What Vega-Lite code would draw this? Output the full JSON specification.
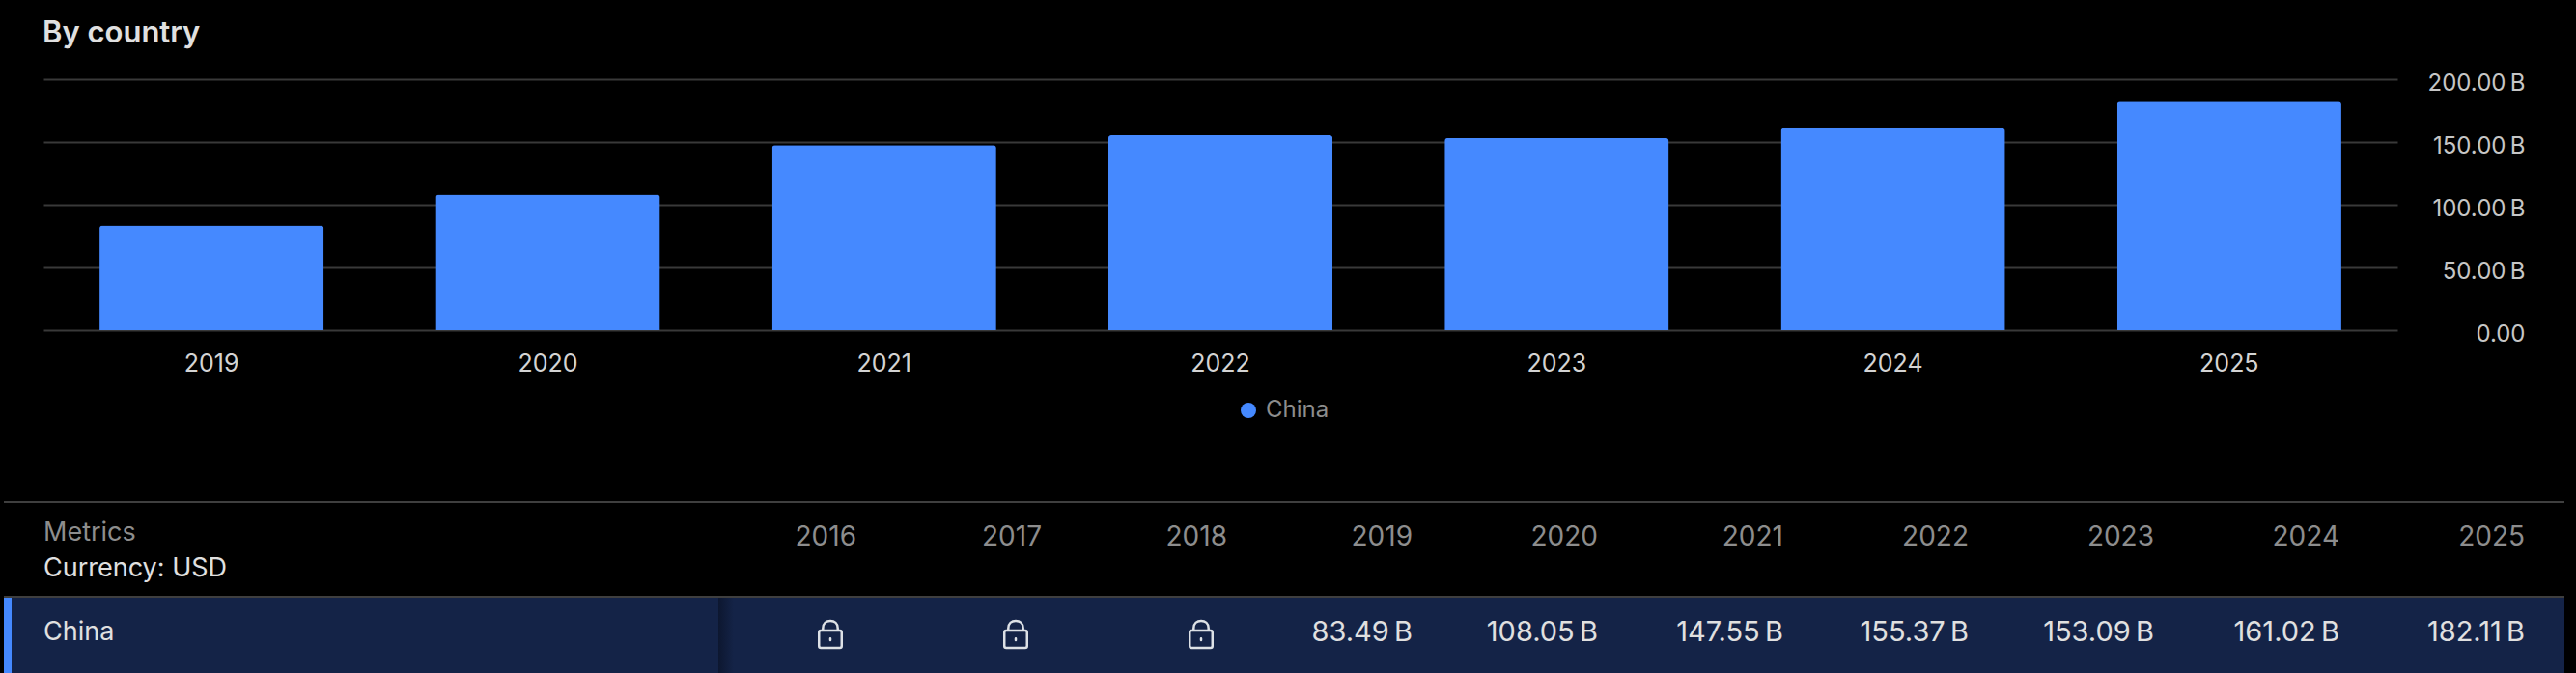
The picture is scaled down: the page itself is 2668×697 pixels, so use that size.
{
"$schema":"https://vega.github.io/schema/vega-lite/v6.json",
"width":2668,"height":697,
"autosize":{"type":"fit","contains":"padding"},
"padding":0,
"background":"#000000",
"config":{"view":{"stroke":null},"font":"Inter","axis":{"labelFont":"Inter"},"legend":{"labelFont":"Inter"},"title":{"font":"Inter"}},
"title":{"text":"By country","anchor":"start","frame":"group","dx":44,"offset":-51,"fontSize":31,"fontWeight":600,"color":"#e0e0e0"},
"datasets":{
"table":[
{"year":"2016","country":"China","locked":true},
{"year":"2017","country":"China","locked":true},
{"year":"2018","country":"China","locked":true},
{"year":"2019","country":"China","value":83.49,"label":"83.49\u2009B"},
{"year":"2020","country":"China","value":108.05,"label":"108.05\u2009B"},
{"year":"2021","country":"China","value":147.55,"label":"147.55\u2009B"},
{"year":"2022","country":"China","value":155.37,"label":"155.37\u2009B"},
{"year":"2023","country":"China","value":153.09,"label":"153.09\u2009B"},
{"year":"2024","country":"China","value":161.02,"label":"161.02\u2009B"},
{"year":"2025","country":"China","value":182.11,"label":"182.11\u2009B"}
]},
"data":{"name":"table"},
"resolve":{"scale":{"x":"independent","y":"independent","color":"independent"},"axis":{"x":"independent","y":"independent"}},
"layer":[
{"data":{"values":[{"row":"China"}]},
 "mark":{"type":"rect","color":"#142347"},
 "encoding":{
  "x":{"datum":0,"type":"quantitative","axis":null,"scale":{"domain":[0,1],"range":[12,2656]}},
  "x2":{"datum":1},
  "y":{"datum":0,"type":"quantitative","axis":null,"scale":{"domain":[0,1],"range":[618,697]}},
  "y2":{"datum":1}}},
{"data":{"values":[{"row":"China"}]},
 "mark":{"type":"rect","color":"#4589ff"},
 "encoding":{
  "x":{"datum":0,"type":"quantitative","axis":null,"scale":{"domain":[0,1],"range":[4,12]}},
  "x2":{"datum":1},
  "y":{"datum":0,"type":"quantitative","axis":null,"scale":{"domain":[0,1],"range":[618,697]}},
  "y2":{"datum":1}}},
{"data":{"values":[{"row":"China"}]},
 "mark":{"type":"rect","color":{"gradient":"linear","x1":0,"y1":0,"x2":1,"y2":0,"stops":[{"offset":0,"color":"#0d1730"},{"offset":1,"color":"#142347"}]}},
 "encoding":{
  "x":{"datum":0,"type":"quantitative","axis":null,"scale":{"domain":[0,1],"range":[744,760]}},
  "x2":{"datum":1},
  "y":{"datum":0,"type":"quantitative","axis":null,"scale":{"domain":[0,1],"range":[619,697]}},
  "y2":{"datum":1}}},
{"data":{"values":[{"line":"top"},{"line":"header"}]},
 "mark":{"type":"rule","color":"#3f3f3f","strokeWidth":2},
 "encoding":{
  "x":{"datum":0,"type":"quantitative","axis":null,"scale":{"domain":[0,1],"range":[4,2656]}},
  "x2":{"datum":1},
  "y":{"field":"line","type":"ordinal","axis":null,"sort":null,"scale":{"type":"point","domain":["top","header"],"range":[520,618],"padding":0}}}},
{"mark":{"type":"bar","cornerRadiusTopLeft":3,"cornerRadiusTopRight":3},
 "transform":[{"filter":"isValid(datum.value)"}],
 "encoding":{
  "x":{"field":"year","type":"ordinal","title":null,
   "scale":{"range":[45,2483],"paddingInner":0.3333,"paddingOuter":0.1667},
   "axis":{"orient":"bottom","offset":-355,"labelAngle":0,"domain":false,"ticks":false,"grid":false,"labelPadding":22,"labelFontSize":25,"labelColor":"#d4d4d4"}},
  "y":{"field":"value","type":"quantitative","title":null,
   "scale":{"domain":[0,200],"range":[342,82],"nice":false},
   "axis":{"orient":"left","offset":-2615,"values":[0,50,100,150,200],"domain":false,"ticks":false,"grid":true,"gridColor":"#393939","gridWidth":2,"labelAlign":"right","labelPadding":0,"labelOffset":4,"labelFontSize":24,"labelColor":"#c6c6c6","labelExpr":"datum.value === 0 ? '0.00' : format(datum.value, '.2f') + '\u2009B'"}},
  "color":{"field":"country","type":"nominal","scale":{"range":["#4589ff"]},
   "legend":{"orient":"none","legendX":1281,"legendY":413,"title":null,"symbolType":"circle","symbolSize":256,"symbolStrokeWidth":0,"labelFontSize":24,"labelColor":"#8d8d8d","labelOffset":6}}}},
{"data":{"values":[{"label":"Metrics","row":"metrics"},{"label":"Currency: USD","row":"currency"}]},
 "mark":{"type":"text","align":"left","baseline":"middle","fontSize":27},
 "encoding":{
  "text":{"field":"label"},
  "x":{"datum":0,"type":"quantitative","axis":null,"scale":{"domain":[0,1],"range":[45,2656]}},
  "y":{"field":"row","type":"ordinal","axis":null,"sort":null,"scale":{"type":"point","domain":["metrics","currency"],"range":[552,589],"padding":0}},
  "color":{"field":"row","type":"nominal","legend":null,"scale":{"domain":["metrics","currency"],"range":["#8d8d8d","#e0e0e0"]}}}},
{"data":{"values":[{"label":"China"}]},
 "mark":{"type":"text","align":"left","baseline":"middle","fontSize":27,"color":"#e0e0e0"},
 "encoding":{
  "text":{"field":"label"},
  "x":{"datum":0,"type":"quantitative","axis":null,"scale":{"domain":[0,1],"range":[45,2656]}},
  "y":{"datum":0,"type":"quantitative","axis":null,"scale":{"domain":[0,1],"range":[655,700]}}}},
{"mark":{"type":"text","align":"right","baseline":"middle","fontSize":28,"color":"#8d8d8d"},
 "encoding":{
  "text":{"field":"year"},
  "x":{"field":"year","type":"ordinal","axis":null,"scale":{"type":"point","domain":["2016","2017","2018","2019","2020","2021","2022","2023","2024","2025"],"range":[887,2615],"padding":0}},
  "y":{"datum":0,"type":"quantitative","axis":null,"scale":{"domain":[0,1],"range":[557,600]}}}},
{"transform":[{"filter":"isValid(datum.label)"}],
 "mark":{"type":"text","align":"right","baseline":"middle","fontSize":29,"color":"#e0e0e0"},
 "encoding":{
  "text":{"field":"label"},
  "x":{"field":"year","type":"ordinal","axis":null,"scale":{"type":"point","domain":["2016","2017","2018","2019","2020","2021","2022","2023","2024","2025"],"range":[887,2615],"padding":0}},
  "y":{"datum":0,"type":"quantitative","axis":null,"scale":{"domain":[0,1],"range":[655,700]}}}},
{"transform":[{"filter":"datum.locked === true"}],
 "mark":{"type":"point","filled":false,"stroke":"#dde1e6","strokeWidth":2.5,"strokeCap":"round","opacity":1,"size":784,
  "shape":"M-0.7,-0.28 L0.7,-0.28 Q0.84,-0.28 0.84,-0.14 L0.84,0.86 Q0.84,1 0.7,1 L-0.7,1 Q-0.84,1 -0.84,0.86 L-0.84,-0.14 Q-0.84,-0.28 -0.7,-0.28 Z M-0.55,-0.28 L-0.55,-0.45 C-0.55,-0.8 -0.3,-1 0,-1 C0.3,-1 0.55,-0.8 0.55,-0.45 L0.55,-0.28 M0,0.3 L0,0.42"},
 "encoding":{
  "x":{"field":"year","type":"ordinal","axis":null,"scale":{"type":"point","domain":["2016","2017","2018","2019","2020","2021","2022","2023","2024","2025"],"range":[860,2588],"padding":0}},
  "y":{"datum":0,"type":"quantitative","axis":null,"scale":{"domain":[0,1],"range":[657,700]}}}}
]
}
